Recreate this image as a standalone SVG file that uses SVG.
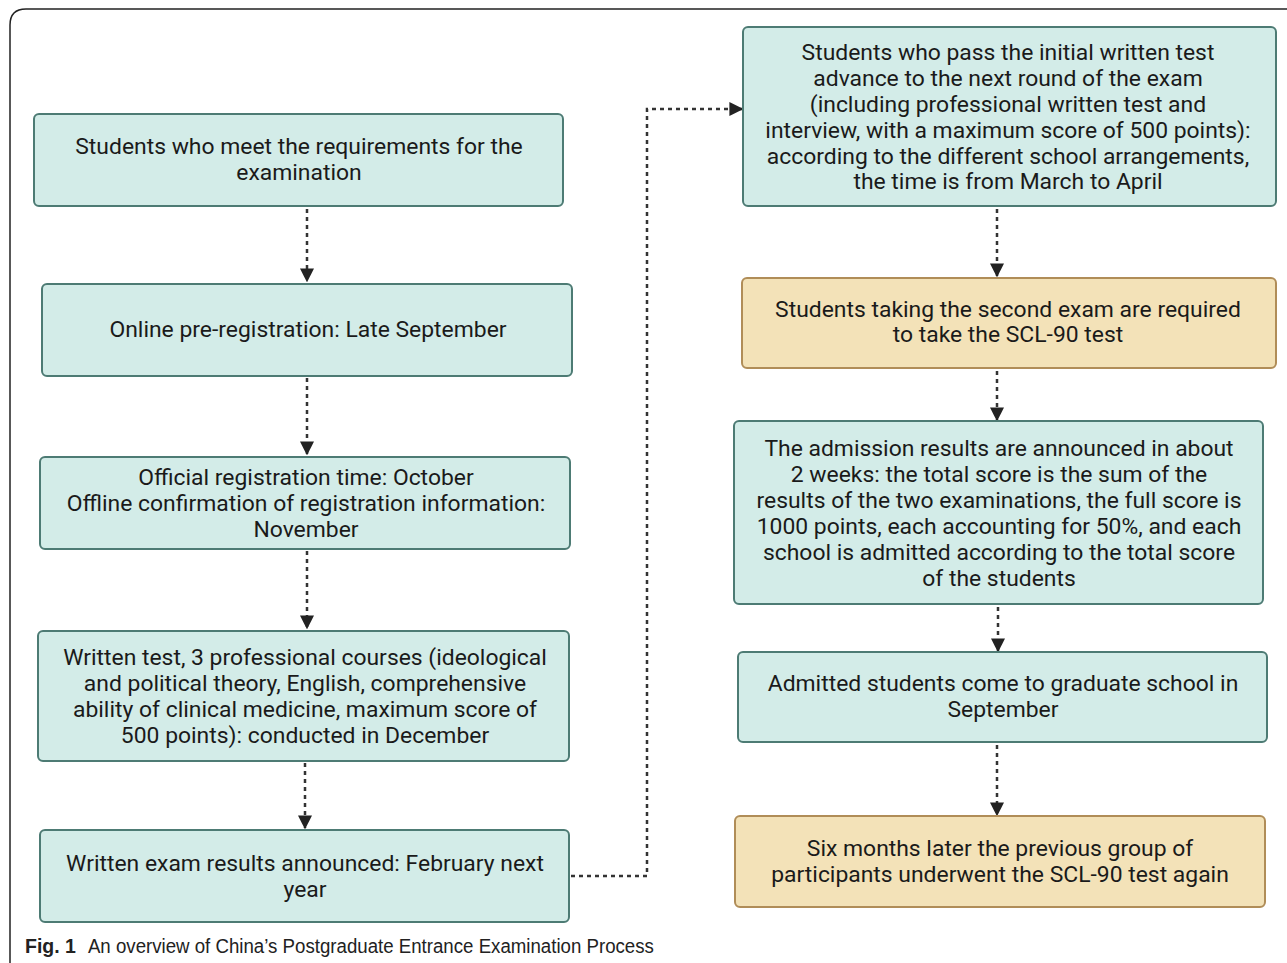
<svg xmlns="http://www.w3.org/2000/svg" width="1287" height="963" viewBox="0 0 1287 963">
<style>
.t{fill:#d3ece8;stroke:#4d7b74;stroke-width:2}
.y{fill:#f3e2b8;stroke:#b08d58;stroke-width:2}
text{font-family:Roboto,"Noto Sans",sans-serif;font-size:22.9px;fill:#1a1a1a;text-anchor:middle}
.c{fill:none;stroke:#333;stroke-width:2.5;stroke-dasharray:4 4}
</style>
<defs>
<marker id="a" viewBox="0 0 10 10" refX="9" refY="5" markerWidth="14" markerHeight="14" orient="auto" markerUnits="userSpaceOnUse">
<path d="M0,0 L10,5 L0,10 Z" fill="#222"/>
</marker>
</defs>
<rect width="1287" height="963" fill="#fff"/>
<path d="M10,963 L10,25 Q10,9 26,9 L1287,9" fill="none" stroke="#222" stroke-width="1.5"/>
<g id="connectors">
<path class="c" d="M307,209 V281" marker-end="url(#a)"/>
<path class="c" d="M307,378 V454" marker-end="url(#a)"/>
<path class="c" d="M307,551 V628" marker-end="url(#a)"/>
<path class="c" d="M305,763 V828" marker-end="url(#a)"/>
<path class="c" d="M571,876 H647 V109 H742" marker-end="url(#a)"/>
<path class="c" d="M997,209 V276" marker-end="url(#a)"/>
<path class="c" d="M997,371 V420" marker-end="url(#a)"/>
<path class="c" d="M998,607 V651" marker-end="url(#a)"/>
<path class="c" d="M997,745 V815" marker-end="url(#a)"/>
</g>
<g id="n1"><rect class="t" x="34" y="114" width="529" height="92" rx="5"/>
<text x="299" y="154">Students who meet the requirements for the</text><text x="299" y="180">examination</text></g>
<g id="n2"><rect class="t" x="42" y="284" width="530" height="92" rx="5"/>
<text x="308" y="337">Online pre-registration: Late September</text></g>
<g id="n3"><rect class="t" x="40" y="457" width="530" height="92" rx="5"/>
<text x="306" y="485">Official registration time: October</text><text x="306" y="511">Offline confirmation of registration information:</text><text x="306" y="537">November</text></g>
<g id="n4"><rect class="t" x="38" y="631" width="531" height="130" rx="5"/>
<text x="305" y="665">Written test, 3 professional courses (ideological</text><text x="305" y="691">and political theory, English, comprehensive</text><text x="305" y="717">ability of clinical medicine, maximum score of</text><text x="305" y="743">500 points): conducted in December</text></g>
<g id="n5"><rect class="t" x="40" y="830" width="529" height="92" rx="5"/>
<text x="305" y="871">Written exam results announced: February next</text><text x="305" y="897">year</text></g>
<g id="n6"><rect class="t" x="743" y="27" width="533" height="179" rx="5"/>
<text x="1008" y="60">Students who pass the initial written test</text><text x="1008" y="86">advance to the next round of the exam</text><text x="1008" y="112">(including professional written test and</text><text x="1008" y="138">interview, with a maximum score of 500 points):</text><text x="1008" y="164">according to the different school arrangements,</text><text x="1008" y="189">the time is from March to April</text></g>
<g id="n7"><rect class="y" x="742" y="278" width="534" height="90" rx="5"/>
<text x="1008" y="317">Students taking the second exam are required</text><text x="1008" y="342">to take the SCL-90 test</text></g>
<g id="n8"><rect class="t" x="734" y="421" width="529" height="183" rx="5"/>
<text x="999" y="456">The admission results are announced in about</text><text x="999" y="482">2 weeks: the total score is the sum of the</text><text x="999" y="508">results of the two examinations, the full score is</text><text x="999" y="534">1000 points, each accounting for 50%, and each</text><text x="999" y="560">school is admitted according to the total score</text><text x="999" y="586">of the students</text></g>
<g id="n9"><rect class="t" x="738" y="652" width="529" height="90" rx="5"/>
<text x="1003" y="691">Admitted students come to graduate school in</text><text x="1003" y="717">September</text></g>
<g id="n10"><rect class="y" x="735" y="816" width="530" height="91" rx="5"/>
<text x="1000" y="856">Six months later the previous group of</text><text x="1000" y="882">participants underwent the SCL-90 test again</text></g>
<g id="caption"><text x="25" y="953" style="text-anchor:start;font-family:'Liberation Sans',sans-serif;font-size:19.5px;fill:#222"><tspan font-weight="bold">Fig. 1</tspan><tspan dx="12" textLength="566" lengthAdjust="spacingAndGlyphs">An overview of China’s Postgraduate Entrance Examination Process</tspan></text></g>
</svg>
